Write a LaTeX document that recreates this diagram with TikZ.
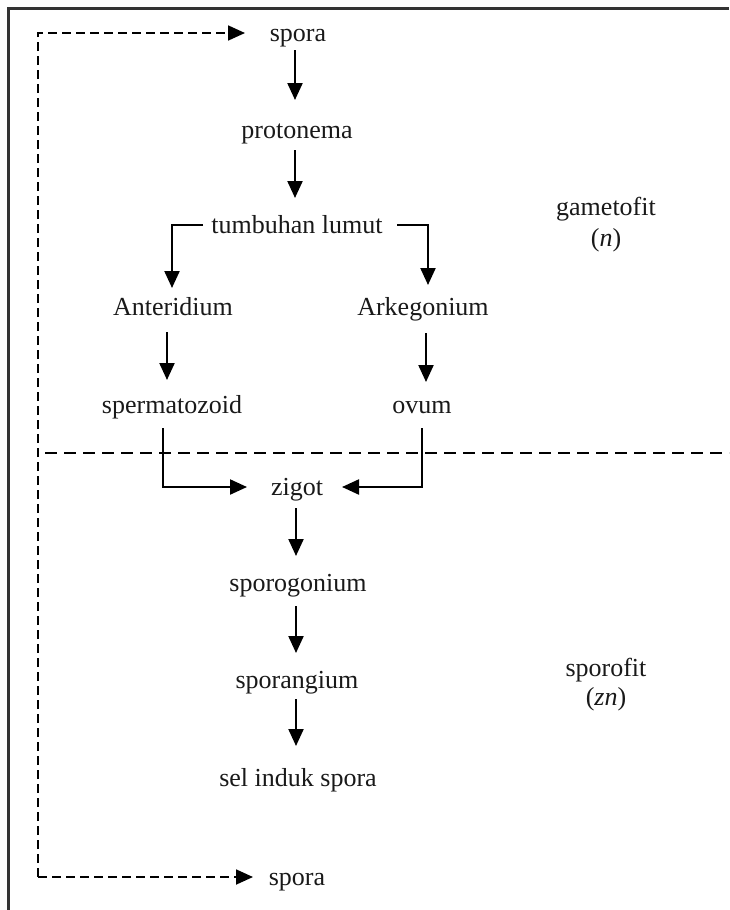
\documentclass[tikz,border=0pt]{standalone}
\usepackage{fontspec}
\setmainfont{Liberation Serif}
\usetikzlibrary{arrows.meta}
\begin{document}
\begin{tikzpicture}[x=1pt,y=-1pt,
  lbl/.style={inner sep=0pt,text height=18pt,text depth=6pt,font=\fontsize{26}{30}\selectfont,text=black!90},
  arr/.style={line width=2.2pt,-{Triangle[length=17pt,width=15pt]}},
  dasharr/.style={line width=1.8pt,dash pattern=on 9pt off 5pt,-{Triangle[length=17pt,width=15pt]}},
  sep/.style={line width=2.8pt,dash pattern=on 12pt off 7pt},
  frame/.style={line width=3pt,black!80}]
\useasboundingbox (0,0) rectangle (729,910);
\draw[frame] (729,8) -- (8,8) -- (8,910);

\node[lbl] (spora1) at (298,35) {spora};
\node[lbl] (proto) at (297,132) {protonema};
\node[lbl] (tumb) at (297,227) {tumbuhan lumut};
\node[lbl] (anter) at (173,309) {Anteridium};
\node[lbl] (arke) at (423,309) {Arkegonium};
\node[lbl] (sperm) at (172,407) {spermatozoid};
\node[lbl] (ovum) at (422,407) {ovum};
\node[lbl] (zigot) at (297,489) {zigot};
\node[lbl] (sporog) at (298,585) {sporogonium};
\node[lbl] (sporang) at (297,682) {sporangium};
\node[lbl] (sel) at (298,780) {sel induk spora};
\node[lbl] (spora2) at (297,879) {spora};
\node[lbl] (game) at (606,209) {gametofit};
\node[lbl] (gamen) at (606,240) {(\textit{n})};
\node[lbl] (sporo) at (606,670) {sporofit};
\node[lbl] (sporon) at (606,699) {(\textit{zn})};

\draw[arr] ([shift={(-3,15)}]spora1.center) -- ([shift={(-2,-32)}]proto.center);
\draw[arr] ([shift={(-2,18)}]proto.center) -- ([shift={(-2,-29)}]tumb.center);
\draw[arr] ([shift={(-94,-2)}]tumb.center) -| ([shift={(-1,-21)}]anter.center);
\draw[arr] ([shift={(100,-2)}]tumb.center) -| ([shift={(5,-24)}]arke.center);
\draw[arr] ([shift={(-6,23)}]anter.center) -- ([shift={(-5,-27)}]sperm.center);
\draw[arr] ([shift={(3,24)}]arke.center) -- ([shift={(4,-25)}]ovum.center);
\draw[arr] ([shift={(-9,21)}]sperm.center) |- ([shift={(-50,-2)}]zigot.center);
\draw[arr] ([shift={(0,21)}]ovum.center) |- ([shift={(45,-2)}]zigot.center);
\draw[arr] ([shift={(-1,19)}]zigot.center) -- ([shift={(-2,-29)}]sporog.center);
\draw[arr] ([shift={(-2,21)}]sporog.center) -- ([shift={(-1,-29)}]sporang.center);
\draw[arr] ([shift={(-1,17)}]sporang.center) -- ([shift={(-2,-34)}]sel.center);

\coordinate (lc) at (38,877);
\draw[dasharr] (lc) |- ([shift={(-53,-2)}]spora1.center);
\draw[dasharr] (lc) -- ([shift={(-44,-2)}]spora2.center);

\coordinate (sepL) at (45,453);
\coordinate (sepR) at (729,453);
\draw[sep] (sepL) -- (sepR);
\end{tikzpicture}
\end{document}
